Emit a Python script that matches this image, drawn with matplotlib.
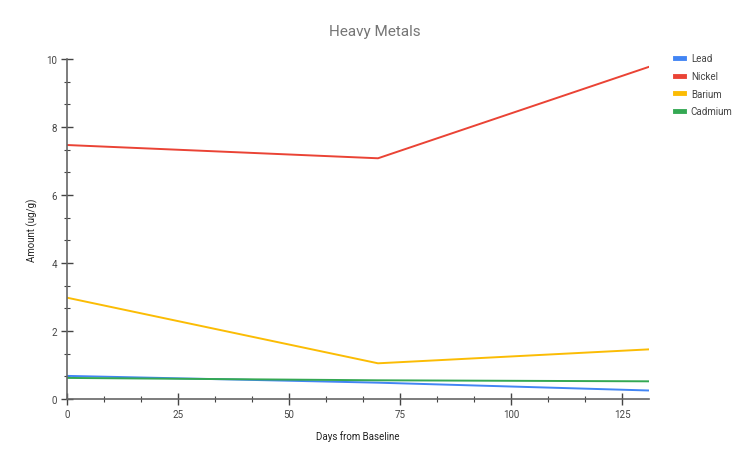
import numpy as np
import matplotlib.pyplot as plt
from matplotlib.ticker import MultipleLocator

# Datos
dias = [0, 70, 131]
lead = [0.68, 0.48, 0.25]
nickel = [7.47, 7.08, 9.77]
barium = [2.98, 1.05, 1.46]
cadmium = [0.62, 0.55, 0.52]

series = ["Lead", "Nickel", "Barium", "Cadmium"]
colores = ["#4285F4", "#EA4335", "#FBBC04", "#34A853"]

plt.rcParams['font.family'] = ['Roboto', 'DejaVu Sans']

fig = plt.figure(figsize=(7.5, 4.64), dpi=100)
ax = fig.add_axes([67/750, 64/464, 582/750, 340/464])

for nombre, valores, color in zip(series, [lead, nickel, barium, cadmium], colores):
    ax.plot(dias, valores, color=color, lw=1.4, label=nombre)

ax.set_xlim(0, 131)
ax.set_ylim(0, 10)
ax.xaxis.set_major_locator(MultipleLocator(25))
ax.xaxis.set_minor_locator(MultipleLocator(25 / 3))
ax.yaxis.set_major_locator(MultipleLocator(2))
ax.yaxis.set_minor_locator(MultipleLocator(2 / 3))

gris = "#666666"
for lado in ["top", "right"]:
    ax.spines[lado].set_visible(False)
for lado in ["left", "bottom"]:
    ax.spines[lado].set_color(gris)
    ax.spines[lado].set_linewidth(1.2)

ax.tick_params(which="major", direction="inout", length=8, width=1, color="#444444",
               labelsize=7, labelcolor="#444444", pad=3)
ax.tick_params(which="minor", direction="inout", length=5, width=0.8, color="#444444")

ax.set_xlabel("Days from Baseline", fontsize=7, color="#222222", labelpad=8)
ax.set_ylabel("Amount (ug/g)", fontsize=7, color="#222222", labelpad=6)
fig.suptitle("Heavy Metals", x=375/750, y=1 - 32/464, va="center",
             fontsize=11, color="#757575")

leg = ax.legend(loc="upper left", bbox_to_anchor=(1.03, 1.042), frameon=False,
                fontsize=7, handlelength=0.9, handletextpad=0.7, labelspacing=0.78,
                labelcolor="#444444")
for linea in leg.get_lines():
    linea.set_linewidth(3.5)

fig.savefig("out.png", dpi=100)
